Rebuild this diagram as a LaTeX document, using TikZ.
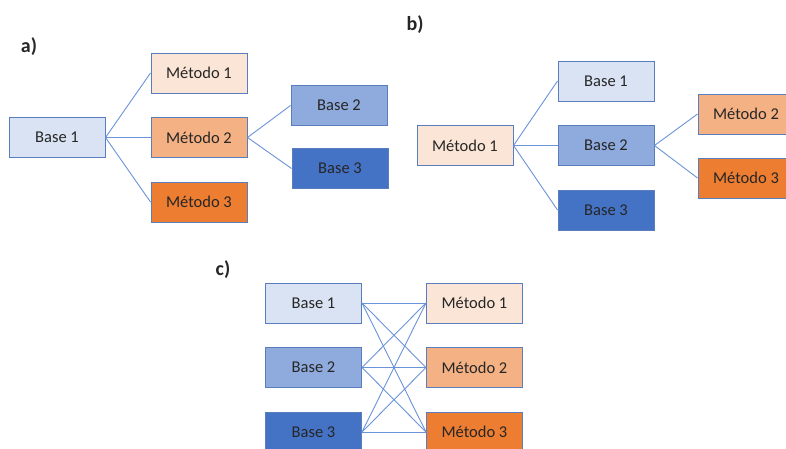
\documentclass[tikz,border=0pt]{standalone}
\usepackage{fontspec}
\setmainfont{Carlito}
\usetikzlibrary{positioning}

\definecolor{baseA}{HTML}{DAE3F3}
\definecolor{baseB}{HTML}{8FAADC}
\definecolor{baseC}{HTML}{4472C4}
\definecolor{metA}{HTML}{FBE5D6}
\definecolor{metB}{HTML}{F4B183}
\definecolor{metC}{HTML}{ED7D31}
\definecolor{rim}{HTML}{5A7DBE}
\definecolor{wire}{HTML}{6A93DA}

\tikzset{
  box/.style={draw=rim, line width=1pt, minimum width=96pt, minimum height=40pt,
    inner sep=0pt, font=\fontsize{16.5}{18}\selectfont, text=black!85},
  link/.style={draw=wire, line width=0.9pt},
  tag/.style={font=\fontsize{20}{22}\selectfont\bfseries, text=black!85}
}

\begin{document}
\begin{tikzpicture}[x=1pt, y=-1pt, node distance=23.5pt and 44pt]
    \useasboundingbox (0,0) rectangle (786,448);

    % a) Base 1 splits into the three methods
    \node[tag] (ta) at (29,47) {a)};
    \node[box, fill=baseA] (a0) at (57,137.5) {Base 1};
    \node[box, fill=metB, right=45pt of a0] (am2) {Método 2};
    \node[box, fill=metA, above=of am2] (am1) {Método 1};
    \node[box, fill=metC, below=of am2] (am3) {Método 3};
    \node[box, fill=baseB, above right=32pt and 43pt of am2.east, anchor=west] (ab2) {Base 2};
    \node[box, fill=baseC, below right=31pt and 44pt of am2.east, anchor=west] (ab3) {Base 3};

    \foreach \m in {am1,am2,am3}
      \draw[link] (a0.east) -- (\m.west);
    \draw[link] (am2.east) -- (ab2.west);
    \draw[link] (am2.east) -- (ab3.west);

    % b) Método 1 splits into the three bases
    \node[tag] (tb) at (415,25) {b)};
    \node[box, fill=metA] (b0) at (465,145.5) {Método 1};
    \node[box, fill=baseB, right=of b0] (bb2) {Base 2};
    \node[box, fill=baseA, above=of bb2] (bb1) {Base 1};
    \node[box, fill=baseC, below=of bb2] (bb3) {Base 3};
    \node[box, fill=metB, above right=31.5pt and 43pt of bb2.east, anchor=west] (bm2) {Método 2};
    \node[box, fill=metC, below right=32.5pt and 43pt of bb2.east, anchor=west] (bm3) {Método 3};

    \foreach \b in {bb1,bb2,bb3}
      \draw[link] (b0.east) -- (\b.west);
    \draw[link] (bb2.east) -- (bm2.west);
    \draw[link] (bb2.east) -- (bm3.west);

    % c) every base with every method
    \node[tag] (tc) at (223,270) {c)};
    \node[box, fill=baseA] (c1) at (313.5,303) {Base 1};
    \node[box, fill=baseB, below=of c1] (c2) {Base 2};
    \node[box, fill=baseC, below=of c2] (c3) {Base 3};
    \node[box, fill=metA, right=64pt of c1] (d1) {Método 1};
    \node[box, fill=metB, right=64pt of c2] (d2) {Método 2};
    \node[box, fill=metC, right=64pt of c3] (d3) {Método 3};

    \foreach \i in {1,2,3}
      \foreach \j in {1,2,3}
        \draw[link] (c\i.east) -- (d\j.west);
\end{tikzpicture}
\end{document}
